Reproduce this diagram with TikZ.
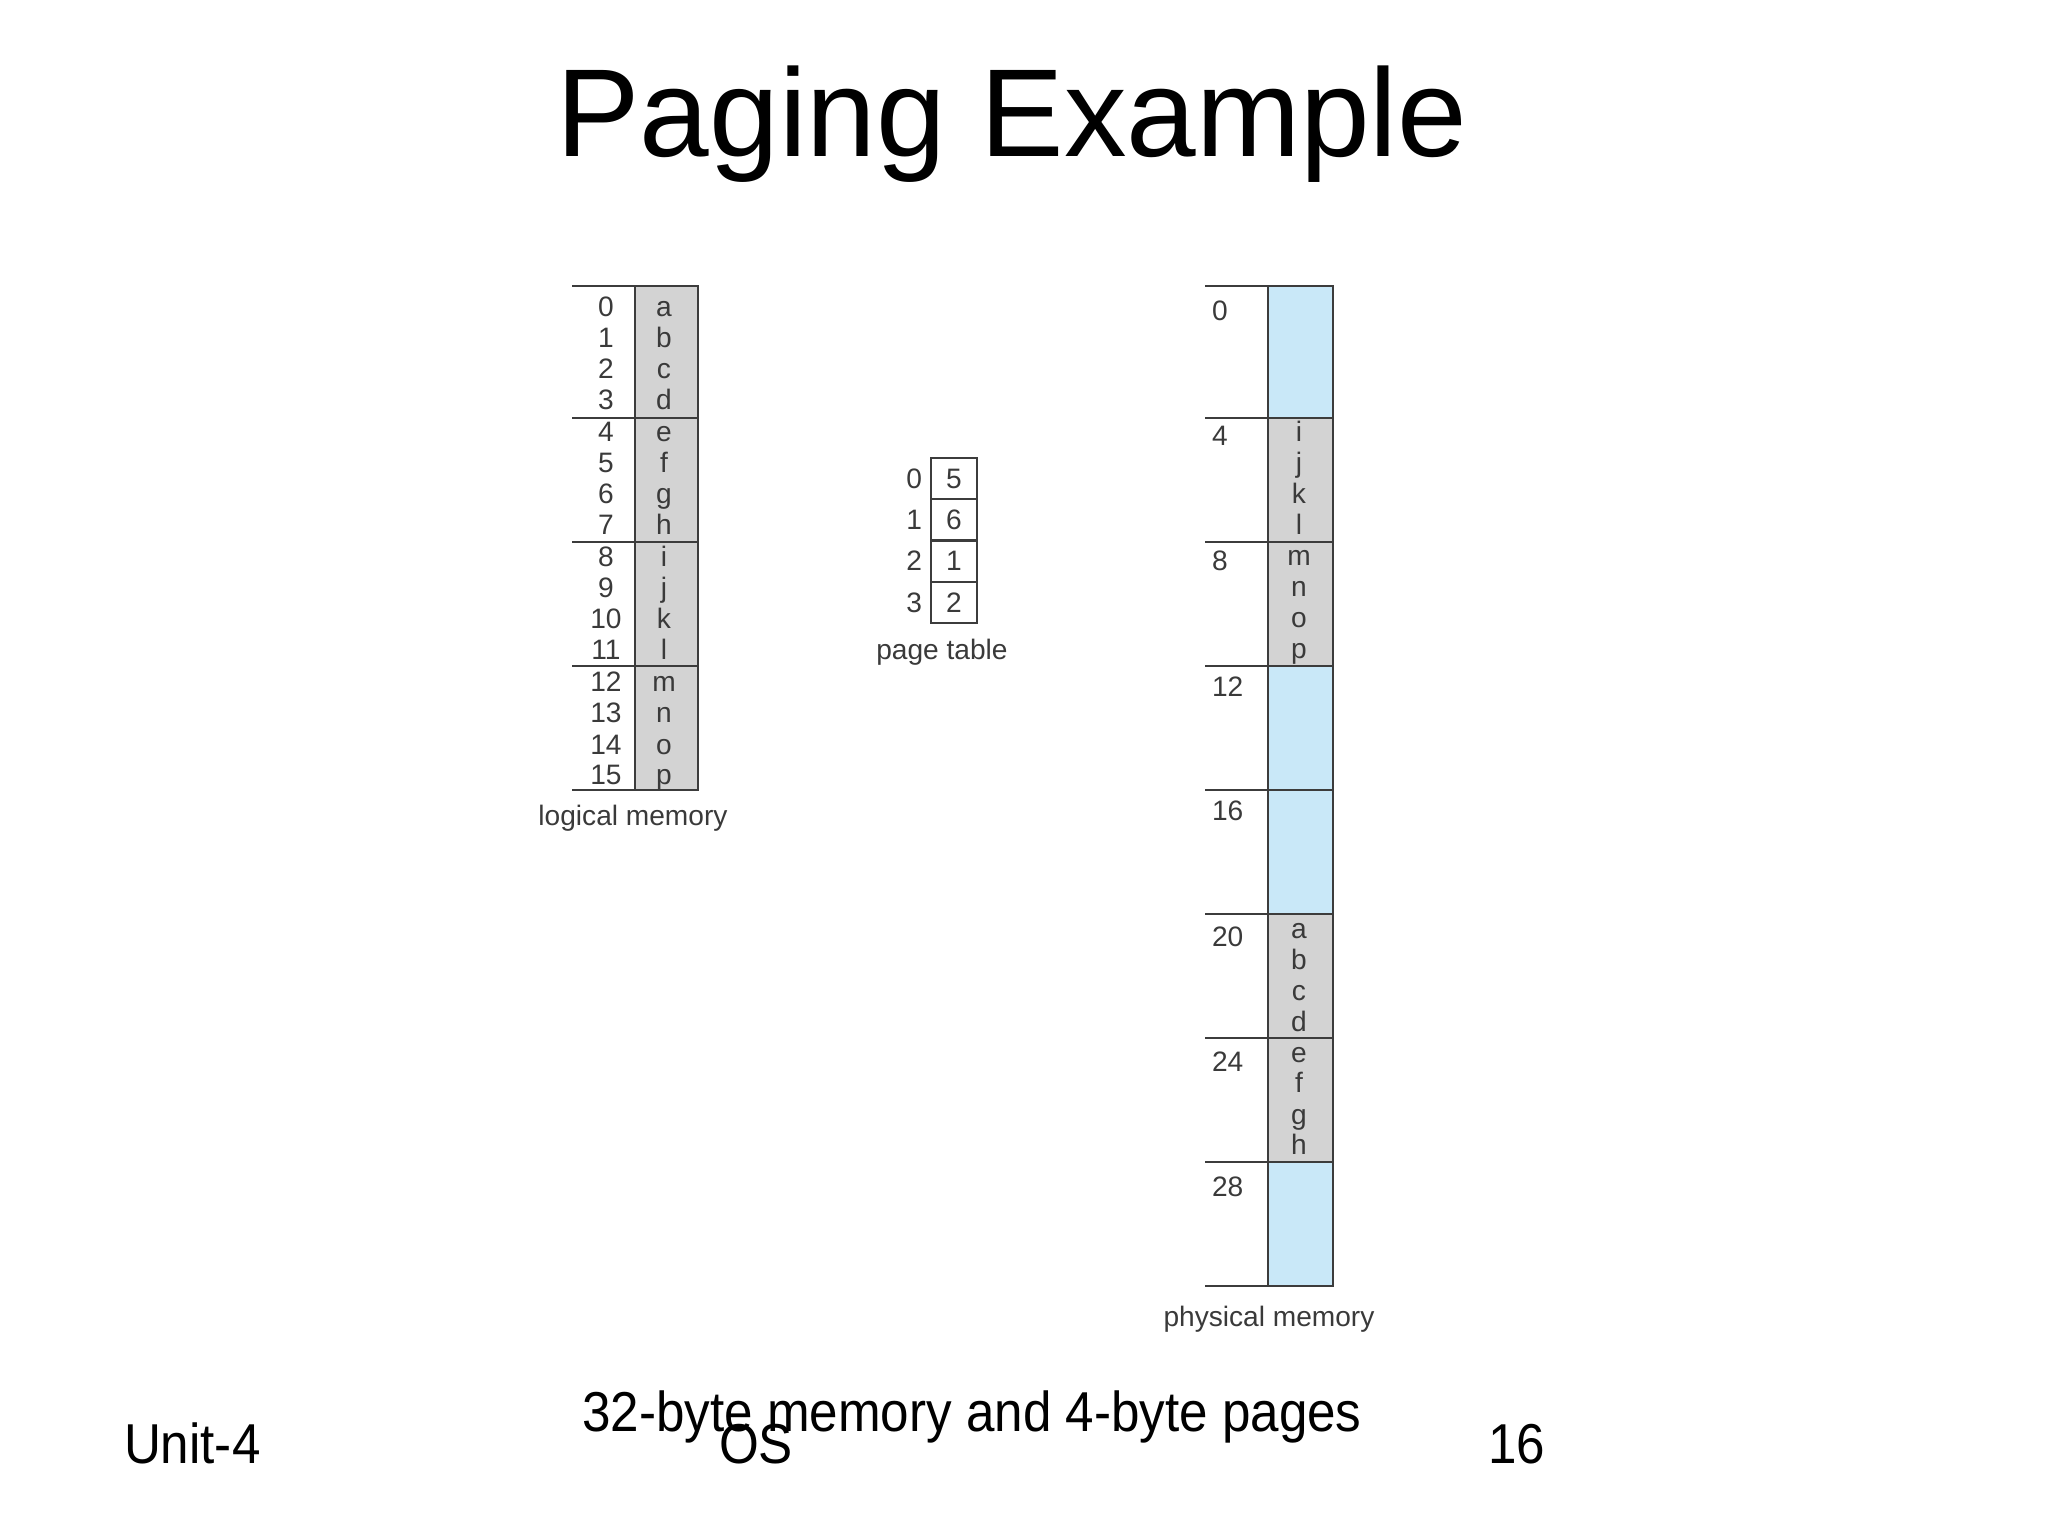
\documentclass[tikz,border=0pt]{standalone}
\usepackage{fontspec}
\setmainfont{Liberation Sans}
\newfontfamily\squeezed[FakeStretch=0.91]{Liberation Sans}
\definecolor{framegray}{HTML}{D3D3D3}
\definecolor{frameblue}{HTML}{C9E8F8}
\definecolor{rulegray}{HTML}{3C3C3C}
\definecolor{inkgray}{HTML}{3A3A3A}
\usepackage{tikz}
\usetikzlibrary{positioning, backgrounds, calc}
\newcommand{\memslot}[4]
{
	\node[slot, #3, anchor = north west] (#4) at (#1,#2) {};
	\draw[rule] (#4.north west) -- +(-0.63,0);
	\draw[rule] (#4.south west) -- +(-0.63,0);
}
\newcommand{\pagerows}[7]
{
	\node[cell, anchor = base] (#1a) at (#2,#3) {#4};
	\node[cell, anchor = base] (#1b) at (#2,#3-0.31) {#5};
	\node[cell, anchor = base] (#1c) at (#2,#3-0.62) {#6};
	\node[cell, anchor = base] (#1d) at (#2,#3-0.93) {#7};
}

\begin{document}
\begin{tikzpicture}[
	every node/.append style={
		inner sep = 0pt, outer sep = 0pt},
	rule/.style = {draw = rulegray, line width = 0.6pt},
	slot/.style = {rule, minimum width = 0.63cm, minimum height = 1.24cm},
	cell/.style = {text = inkgray, font = {\fontsize{8}{9.6}\selectfont}},
	pte/.style = {cell, rule, minimum width = 0.46cm, minimum height = 0.4125cm},
	foot/.style = {font = {\squeezed\fontsize{16}{19}\selectfont}}]

	\useasboundingbox (0,0) rectangle (20.48,-15.36);

	\node[anchor = base, font = {\fontsize{35.6}{43}\selectfont}] (title) at (10.12,-1.57) {Paging Example};

	% logical memory
	\memslot{6.35}{-2.86}{fill = framegray, minimum height = 1.32cm}{l0}
	\memslot{6.35}{-4.18}{fill = framegray}{l1}
	\memslot{6.35}{-5.42}{fill = framegray}{l2}
	\memslot{6.35}{-6.66}{fill = framegray}{l3}
	\pagerows{n0}{6.06}{-3.17}{0}{1}{2}{3}
	\pagerows{n1}{6.06}{-4.42}{4}{5}{6}{7}
	\pagerows{n2}{6.06}{-5.67}{8}{9}{10}{11}
	\pagerows{n3}{6.06}{-6.92}{12}{13}{14}{15}
	\pagerows{la}{6.64}{-3.17}{a}{b}{c}{d}
	\pagerows{le}{6.64}{-4.42}{e}{f}{g}{h}
	\pagerows{li}{6.64}{-5.67}{i}{j}{k}{l}
	\pagerows{lm}{6.64}{-6.92}{m}{n}{o}{p}
	\node[cell] (lname) at (6.33,-8.18) {logical memory};

	% page table
	\node[pte] (pt0) at (9.54,-4.786) {5};
	\node[pte, below = 0pt of pt0] (pt1) {6};
	\node[pte, below = 0pt of pt1] (pt2) {1};
	\node[pte, below = 0pt of pt2] (pt3) {2};
	\node[cell, left = 0.09cm of pt0] (pi0) {0};
	\node[cell, left = 0.09cm of pt1] (pi1) {1};
	\node[cell, left = 0.09cm of pt2] (pi2) {2};
	\node[cell, left = 0.09cm of pt3] (pi3) {3};
	\node[cell, below = 0.16cm of pt3, xshift = -0.12cm] (ptname) {page table};

	% physical memory
	\memslot{12.68}{-2.86}{fill = frameblue, minimum width = 0.65cm, minimum height = 1.32cm}{f0}
	\memslot{12.68}{-4.18}{fill = framegray, minimum width = 0.65cm}{f1}
	\memslot{12.68}{-5.42}{fill = framegray, minimum width = 0.65cm}{f2}
	\memslot{12.68}{-6.66}{fill = frameblue, minimum width = 0.65cm}{f3}
	\memslot{12.68}{-7.90}{fill = frameblue, minimum width = 0.65cm}{f4}
	\memslot{12.68}{-9.14}{fill = framegray, minimum width = 0.65cm}{f5}
	\memslot{12.68}{-10.38}{fill = framegray, minimum width = 0.65cm}{f6}
	\memslot{12.68}{-11.62}{fill = frameblue, minimum width = 0.65cm}{f7}
	\node[cell, anchor = base west] (a0) at (12.12,-3.21) {0};
	\node[cell, anchor = base west] (a4) at (12.12,-4.46) {4};
	\node[cell, anchor = base west] (a8) at (12.12,-5.71) {8};
	\node[cell, anchor = base west] (a12) at (12.12,-6.96) {12};
	\node[cell, anchor = base west] (a16) at (12.12,-8.21) {16};
	\node[cell, anchor = base west] (a20) at (12.12,-9.46) {20};
	\node[cell, anchor = base west] (a24) at (12.12,-10.71) {24};
	\node[cell, anchor = base west] (a28) at (12.12,-11.96) {28};
	\pagerows{fi}{12.99}{-4.42}{i}{j}{k}{l}
	\pagerows{fm}{12.99}{-5.66}{m}{n}{o}{p}
	\pagerows{fa}{12.99}{-9.38}{a}{b}{c}{d}
	\pagerows{fe}{12.99}{-10.62}{e}{f}{g}{h}
	\node[cell] (fname) at (12.69,-13.19) {physical memory};

	% footer
	\node[foot, anchor = base] (caption) at (9.72,-14.31) {32-byte memory and 4-byte pages};
	\node[foot, anchor = base west] (unit) at (1.24,-14.63) {Unit-4};
	\node[foot, anchor = base] (course) at (7.56,-14.63) {OS};
	\node[foot, anchor = base east] (slide) at (15.45,-14.63) {16};
\end{tikzpicture}
\end{document}
